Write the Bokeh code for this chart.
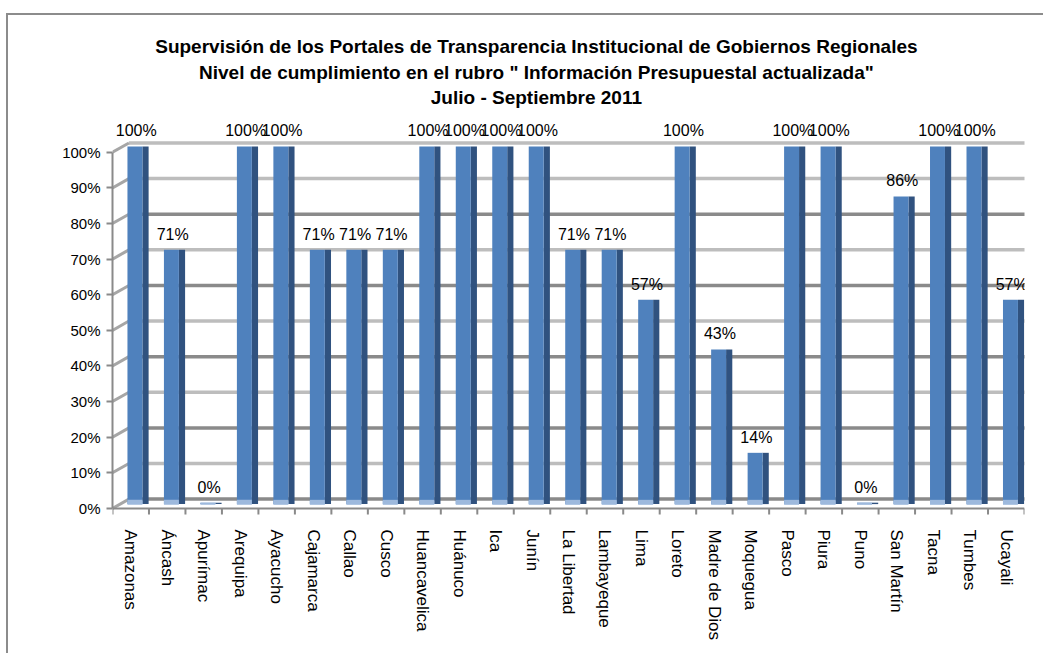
from bokeh.plotting import figure
from bokeh.models import (FactorRange, Range1d, FixedTicker, NumeralTickFormatter,
                          ColumnDataSource)
from bokeh.transform import dodge
from bokeh.core.properties import value
from bokeh.embed import file_html
from bokeh.resources import INLINE

# ---- data ----
regions = ["Amazonas", "Áncash", "Apurímac", "Arequipa", "Ayacucho", "Cajamarca", "Callao",
           "Cusco", "Huancavelica", "Huánuco", "Ica", "Junín", "La Libertad", "Lambayeque",
           "Lima", "Loreto", "Madre de Dios", "Moquegua", "Pasco", "Piura", "Puno",
           "San Martín", "Tacna", "Tumbes", "Ucayali"]
compliance = [100, 71, 0, 100, 100, 71, 71, 71, 100, 100, 100, 100, 71, 71, 57, 100, 43, 14,
              100, 100, 0, 86, 100, 100, 57]
tick_values = [0, 10, 20, 30, 40, 50, 60, 70, 80, 90, 100]
title_lines = [
    "Supervisión de los Portales de Transparencia Institucional de Gobiernos Regionales",
    'Nivel de cumplimiento en el rubro " Información Presupuestal actualizada"',
    "Julio - Septiembre 2011",
]

# ---- styling constants ----
FONT = "Liberation Sans"
FRONT = "#4F81BD"
SIDE = "#30527F"
BASE = "#9DB9DD"
GRID_DARK = "#8A8A8A"
GRID_LIGHT = "#BDBDBD"
DEPTH = 0.016   # bars sit slightly back from the axis plane
WALL = 0.026    # back wall offset (3D look)
TICK = 0.017    # length of x tick marks (data units)
n = len(regions)

p = figure(width=1037, height=640,
           x_range=FactorRange(factors=regions, range_padding=0),
           y_range=Range1d(-0.02, 1.37),
           output_backend="svg", toolbar_location=None,
           x_axis_location="below", y_axis_location="left",
           min_border_left=104, min_border_right=21,
           min_border_top=5, min_border_bottom=140,
           background_fill_color="white", border_fill_color="white",
           outline_line_color=None)
p.margin = (13, 0, 0, 6)
p.styles = {"border-top": "2px solid #8C8C8C", "border-left": "2px solid #8C8C8C"}
p.grid.visible = False

# ---- back wall gridlines & side wall diagonals ----
grid_src = ColumnDataSource(dict(
    y=[t / 100 + WALL for t in tick_values],
    y0=[t / 100 for t in tick_values],
    color=[GRID_DARK if (t // 10) % 2 == 0 and t != 100 else GRID_LIGHT for t in tick_values],
))
p.segment(x0=0.45, x1=n + 0.1, y0="y", y1="y", line_color="color", line_width=3.5, source=grid_src)
p.segment(x0=0, x1=0.45, y0="y0", y1="y", line_color="#A6A6A6", line_width=3, source=grid_src)

# ---- bars ----
src = ColumnDataSource(dict(
    cat=regions,
    top=[v / 100 + DEPTH for v in compliance],
    base_top=[min(v / 100 + DEPTH, 0.024) for v in compliance],
    label_y=[v / 100 + 0.06 for v in compliance],
    label=[f"{v}%" for v in compliance],
))
p.vbar(x=dodge("cat", 0.405, range=p.x_range), width=0.17, bottom=0.012, top="top",
       fill_color=SIDE, line_color=None, source=src)
p.vbar(x=dodge("cat", 0.115, range=p.x_range), width=0.41, bottom=0.012, top="top",
       fill_color=FRONT, line_color=None, source=src)
p.vbar(x=dodge("cat", 0.115, range=p.x_range), width=0.41, bottom=0.010, top="base_top",
       fill_color=BASE, line_color=None, source=src)

# ---- x axis line and boundary ticks (category separators) ----
bounds = list(range(n + 1))
p.segment(x0=0, x1=n, y0=0, y1=0, line_color=GRID_DARK, line_width=2)
p.segment(x0=bounds, x1=bounds, y0=[0] * len(bounds), y1=[-TICK] * len(bounds),
          line_color=GRID_DARK, line_width=2)

# ---- data labels ----
p.text(x=dodge("cat", 0.15, range=p.x_range), y="label_y", text="label", source=src,
       text_align="center", text_baseline="middle", text_font=value(FONT),
       text_font_size="16px", text_color="black")

# ---- title (three centred lines above the plotting area) ----
p.text(x=[11.62] * 3, y=[1.298, 1.225, 1.154], text=title_lines,
       text_align="center", text_baseline="middle", text_font=value(FONT),
       text_font_style="bold", text_font_size="19px", text_color="black")

# ---- y axis ----
ya = p.yaxis[0]
ya.ticker = FixedTicker(ticks=[t / 100 for t in tick_values])
ya.formatter = NumeralTickFormatter(format="0%")
ya.bounds = (0, 1)
ya.axis_line_color = GRID_DARK
ya.axis_line_width = 2
ya.major_tick_line_color = GRID_DARK
ya.major_tick_line_width = 2
ya.major_tick_out = 6
ya.major_tick_in = 0
ya.minor_tick_line_color = None
ya.major_label_text_font = FONT
ya.major_label_text_font_size = "15px"
ya.major_label_text_color = "black"
ya.major_label_standoff = 6

# ---- category axis (labels only) ----
xa = p.xaxis[0]
xa.axis_line_color = None
xa.major_tick_line_color = None
xa.major_label_orientation = "vertical"
xa.major_label_text_font = FONT
xa.major_label_text_font_size = "17px"
xa.major_label_text_color = "black"
xa.major_label_standoff = 8

open("out.html", "w").write(file_html(p, INLINE))
